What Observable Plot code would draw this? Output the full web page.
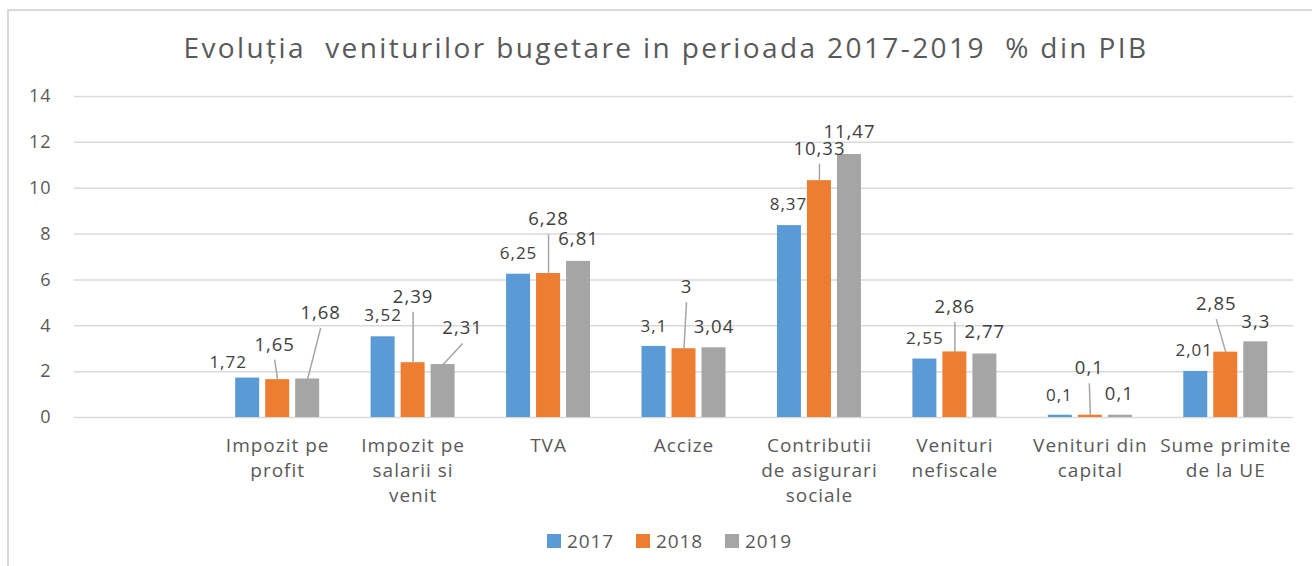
<!DOCTYPE html>
<html>
<head>
<meta charset="utf-8">
<script src="https://cdn.jsdelivr.net/npm/d3@7"></script>
<script src="https://cdn.jsdelivr.net/npm/@observablehq/plot@0.6"></script>
<style>
  html, body { margin: 0; padding: 0; background: #fff; }
  #wrap { position: relative; width: 1312px; height: 566px; overflow: hidden; font-family: "Open Sans", sans-serif; color: #595959; }
  #frame { position: absolute; left: 7px; top: 9px; width: 1400px; height: 700px; border: 2px solid #D9D9D9; box-sizing: border-box; }
  #title { position: absolute; left: 0; top: 28px; width: 1332px; text-align: center; font-size: 28px; line-height: 38px; white-space: pre; letter-spacing: 2.4px; color: #595959; }
  #chart { position: absolute; left: 0; top: 70px; }
  #legend { position: absolute; left: 547px; top: 529px; display: flex; font-size: 19px; line-height: 24px; letter-spacing: 0.9px; color: #595959; }
  .item { display: flex; align-items: center; width: 89px; }
  .sw { width: 14px; height: 14px; margin-right: 6px; }
</style>
</head>
<body>
<div id="wrap">
  <div id="frame"></div>
  <div id="title"></div>
  <div id="chart"></div>
  <div id="legend"></div>
</div>
<script>
// ---- data ----
const titleText = "Evoluția  veniturilor bugetare in perioada 2017-2019  % din PIB";
const categories = ["Impozit pe profit", "Impozit pe salarii si venit", "TVA", "Accize",
  "Contributii de asigurari sociale", "Venituri nefiscale", "Venituri din capital", "Sume primite de la UE"];
const tickLabels = ["Impozit pe\nprofit", "Impozit pe\nsalarii si\nvenit", "TVA", "Accize",
  "Contributii\nde asigurari\nsociale", "Venituri\nnefiscale", "Venituri din\ncapital", "Sume primite\nde la UE"];
const years = ["2017", "2018", "2019"];
const v2017 = [1.72, 3.52, 6.25, 3.1, 8.37, 2.55, 0.1, 2.01];
const v2018 = [1.65, 2.39, 6.28, 3, 10.33, 2.86, 0.1, 2.85];
const v2019 = [1.68, 2.31, 6.81, 3.04, 11.47, 2.77, 0.1, 3.3];
const yTicks = [0, 2, 4, 6, 8, 10, 12, 14];
const colors = ["#5B9BD5", "#ED7D31", "#A5A5A5"];

// ---- label placement (pixel offsets of label centre from bar top; leader flag) ----
const labDx = [
  [-19.5, 0, 0, 0, -1, 0, -1, -1.5],
  [-3, 0, 0, 2.5, 0, 0, -1, -9.5],
  [13, 19.5, 0, 0, 0, 0, -1, 0]
];
const labDy = [
  [-16, -21, -21, -20, -21, -20.5, -20, -21],
  [-35, -66, -54, -61.5, -32, -45, -47, -48],
  [-66, -36, -22, -21, -22, -22, -21, -20]
];
const leader = [
  [0, 0, 0, 0, 0, 0, 0, 0],
  [1, 1, 1, 1, 1, 1, 1, 1],
  [1, 1, 0, 0, 0, 0, 0, 0]
];
const labSize = [17, 18.5, 18.5];

// ---- layout ----
const W = 1312, H = 450, mt = 26, mb = 103, ml = 74, mr = 19;
const slots = 9; // first category slot is empty, as in the source
const kx = (W - ml - mr) / slots;   // px per category
const ky = (H - mt - mb) / 14;      // px per unit
const barStep = 30 / kx, barHalf = 12 / kx;

const series = [v2017, v2018, v2019];
const rows = [];
series.forEach((vals, s) => vals.forEach((v, i) => {
  const cx = i + 1 + (s - 1) * barStep;
  rows.push({
    year: years[s], cat: categories[i], value: v, s,
    x1: cx - barHalf, x2: cx + barHalf, cx,
    lx: cx + labDx[s][i] / kx,
    ly: v - labDy[s][i] / ky,
    ex: cx + labDx[s][i] / kx,
    ey: v - (labDy[s][i] + 15) / ky,
    leader: leader[s][i] === 1,
    label: String(v).replace(".", ",")
  });
}));

const plot = Plot.plot({
  width: W, height: H,
  marginTop: mt, marginBottom: mb, marginLeft: ml, marginRight: mr,
  style: { fontFamily: "Open Sans, sans-serif", color: "#595959", background: "transparent", overflow: "visible" },
  x: { domain: [-0.5, slots - 0.5], axis: null },
  y: { domain: [0, 14], axis: null },
  color: { domain: years, range: colors },
  marks: [
    Plot.ruleY(yTicks, { stroke: "#D9D9D9", strokeWidth: 1.5 }),
    Plot.axisY({ ticks: yTicks, tickSize: 0, tickPadding: 23, fontSize: 18, label: null, fill: "#595959" }),
    Plot.axisX({ ticks: d3.range(1, slots), tickFormat: i => tickLabels[i - 1], tickSize: 0, tickPadding: 16,
      fontSize: 19, lineHeight: 1.34, label: null, fill: "#595959" }),
    Plot.rectY(rows, { x1: "x1", x2: "x2", y: "value", fill: "year" }),
    Plot.link(rows.filter(d => d.leader), { x1: "cx", y1: "value", x2: "ex", y2: "ey", stroke: "#A6A6A6", strokeWidth: 1.5 }),
    ...[0, 1, 2].map(s => Plot.text(rows.filter(d => d.s === s), {
      x: "lx", y: "ly", text: "label", fontSize: labSize[s], fill: "#404040", textAnchor: "middle", lineAnchor: "middle"
    }))
  ]
});
plot.querySelectorAll("text").forEach(t => t.style.letterSpacing = "1px");
document.getElementById("chart").appendChild(plot);
document.getElementById("title").textContent = titleText;

const lg = document.getElementById("legend");
years.forEach((y, i) => {
  const it = document.createElement("div");
  it.className = "item";
  it.innerHTML = `<div class="sw" style="background:${colors[i]}"></div><span>${y}</span>`;
  lg.appendChild(it);
});
</script>
</body>
</html>
